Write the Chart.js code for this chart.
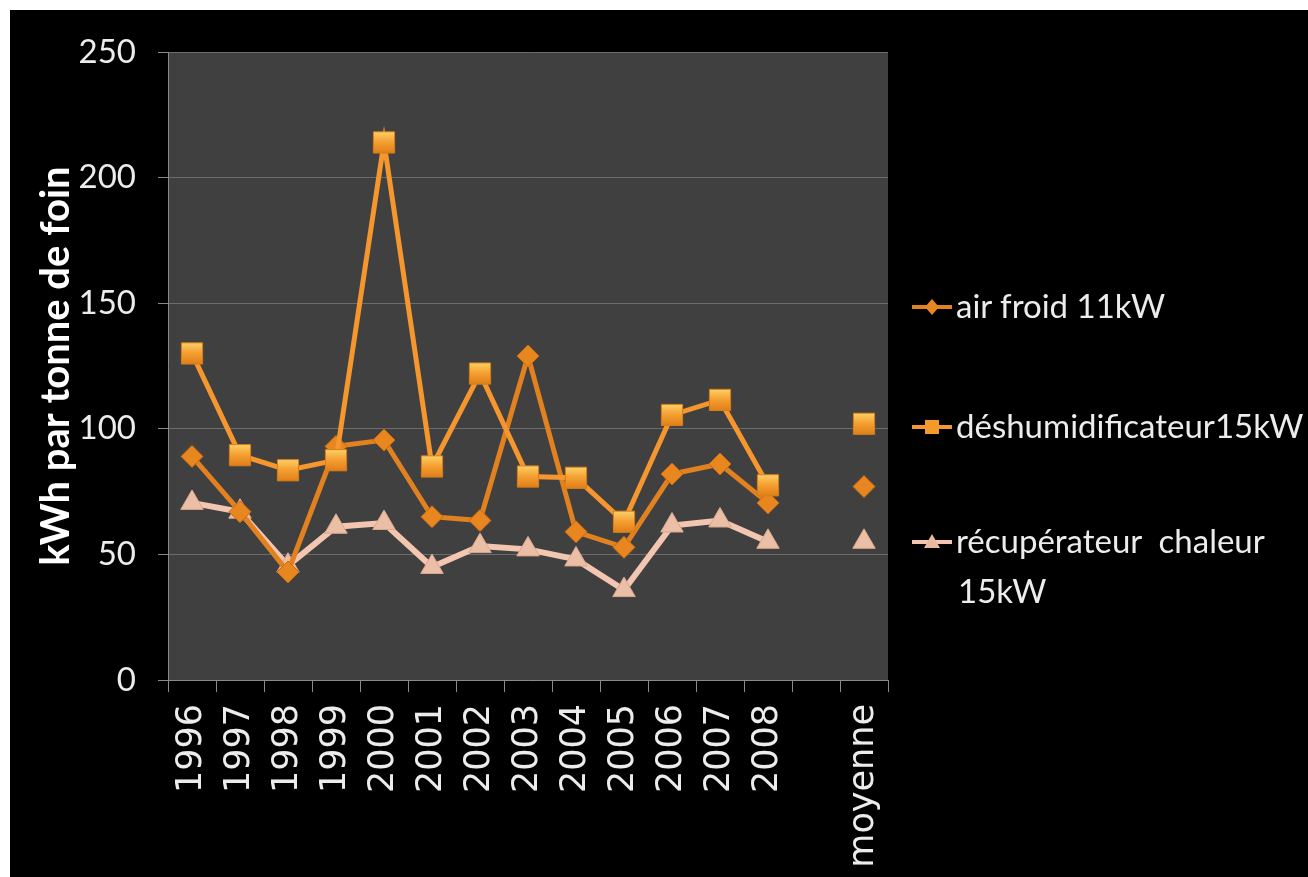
<!DOCTYPE html>
<html>
<head>
  <title>kWh par tonne de foin</title>
  <script src="https://cdn.jsdelivr.net/npm/chart.js"></script>
  <style>
    body { margin: 0; background: #fff; }
    #box { position: absolute; left: 10px; top: 10px; width: 1298px; height: 867px; background: #000; }
    .leg { position: absolute; left: 908px; font-family: Lato, sans-serif; font-size: 33px; color: #ececec; white-space: pre; line-height: 50px; }
    .leg svg { vertical-align: middle; margin-right: 2px; position: relative; top: -3px; }
  </style>
</head>
<body>
  <div id="box"><canvas id="chart" width="1298" height="867"></canvas></div>

  <div class="leg" style="top:280px"><svg width="46" height="24"><line x1="4" y1="12" x2="44" y2="12" stroke="#e2811f" stroke-width="4"/><polygon points="24,4 31,12 24,20 17,12" fill="#e8861f"/></svg>air froid 11kW</div>
  <div class="leg" style="top:400px"><svg width="46" height="24"><line x1="4" y1="12" x2="44" y2="12" stroke="#f5962e" stroke-width="4"/><rect x="17" y="5" width="14" height="14" fill="#f39a2a"/></svg>déshumidificateur15kW</div>
  <div class="leg" style="top:515px"><svg width="46" height="24"><line x1="4" y1="12" x2="44" y2="12" stroke="#f2c6b0" stroke-width="4"/><polygon points="24,4 32,18 16,18" fill="#e9b9a0"/></svg>récupérateur  chaleur<br><span style="padding-left:50px">15kW</span></div>

  <script>
    const labels = ['1996', '1997', '1998', '1999', '2000', '2001', '2002', '2003', '2004', '2005', '2006', '2007', '2008', '', 'moyenne'];
    const airFroid = [89, 67, 43, 93, 95.5, 65, 63.5, 129, 59, 52.8, 82, 86, 70.5, null, 77];
    const deshum = [130, 89.5, 83.5, 87.5, 214, 85, 122, 81, 80.5, 63, 105.5, 111.5, 77.5, null, 102];
    const recup = [70.5, 67, 45.5, 61, 62.5, 45, 53.3, 52, 48, 35.8, 61.5, 63.5, 55, null, 55];

    // fond gris de la zone de tracé
    const plotBg = {
      id: 'plotBg',
      beforeDraw(chart) {
        const a = chart.chartArea, c = chart.ctx;
        c.save();
        c.fillStyle = '#404040';
        c.fillRect(a.left, a.top, a.right - a.left, a.bottom - a.top);
        c.restore();
      }
    };

    // dégradé clair en haut des carrés
    function squareFill(ctx) {
      const chart = ctx.chart;
      const y = chart.scales && chart.scales.y;
      if (!y || ctx.raw == null) return '#f39a2a';
      const py = y.getPixelForValue(ctx.raw);
      if (!Number.isFinite(py)) return '#f39a2a';
      const g = chart.ctx.createLinearGradient(0, py - 11, 0, py + 11);
      g.addColorStop(0, '#fbd36a');
      g.addColorStop(0.45, '#f5a233');
      g.addColorStop(1, '#e07d18');
      return g;
    }

    new Chart(document.getElementById('chart'), {
      type: 'line',
      data: {
        labels: labels,
        datasets: [
          {
            label: 'air froid 11kW', data: airFroid, order: 2,
            borderColor: '#e2811f', borderWidth: 5,
            pointStyle: 'rectRot', pointRadius: 11,
            pointBackgroundColor: '#e8861f', pointBorderColor: '#c96a12', pointBorderWidth: 1
          },
          {
            label: 'déshumidificateur15kW', data: deshum, order: 1,
            borderColor: '#f5962e', borderWidth: 5,
            pointStyle: 'rect', pointRadius: 15,
            pointBackgroundColor: squareFill, pointBorderColor: '#d97d16', pointBorderWidth: 1
          },
          {
            label: 'récupérateur  chaleur 15kW', data: recup, order: 3,
            borderColor: '#f2c6b0', borderWidth: 6,
            pointStyle: 'triangle', pointRadius: 13,
            pointBackgroundColor: '#ebbea6', pointBorderColor: '#d9a88e', pointBorderWidth: 1
          }
        ]
      },
      options: {
        responsive: false,
        animation: false,
        spanGaps: false,
        layout: { padding: { top: 42, right: 420, left: 0, bottom: 0 } },
        plugins: { legend: { display: false }, tooltip: { enabled: false } },
        scales: {
          x: {
            offset: true,
            afterFit(s) { s.height = 197; },
            border: { color: '#8a8a8a', width: 1 },
            grid: { offset: true, drawOnChartArea: false, color: '#8a8a8a', tickLength: 12 },
            ticks: {
              minRotation: 90, maxRotation: 90, autoSkip: false, padding: 12,
              color: '#ececec', font: { family: '"DejaVu Sans", Verdana, sans-serif', size: 35 }
            }
          },
          y: {
            min: 0, max: 250,
            afterFit(s) { s.width = 158; },
            border: { color: '#8a8a8a', width: 1 },
            grid: { color: '#6c6c6c', tickColor: '#8a8a8a', tickLength: 10 },
            ticks: { stepSize: 50, padding: 22, color: '#ececec', font: { family: 'Lato', size: 33 } },
            title: {
              display: true, text: 'kWh par tonne de foin', color: '#ffffff',
              font: { family: 'Lato', size: 40, weight: 'bold' },
              padding: { top: 22, bottom: 0 }
            }
          }
        }
      },
      plugins: [plotBg]
    });
  </script>
</body>
</html>
